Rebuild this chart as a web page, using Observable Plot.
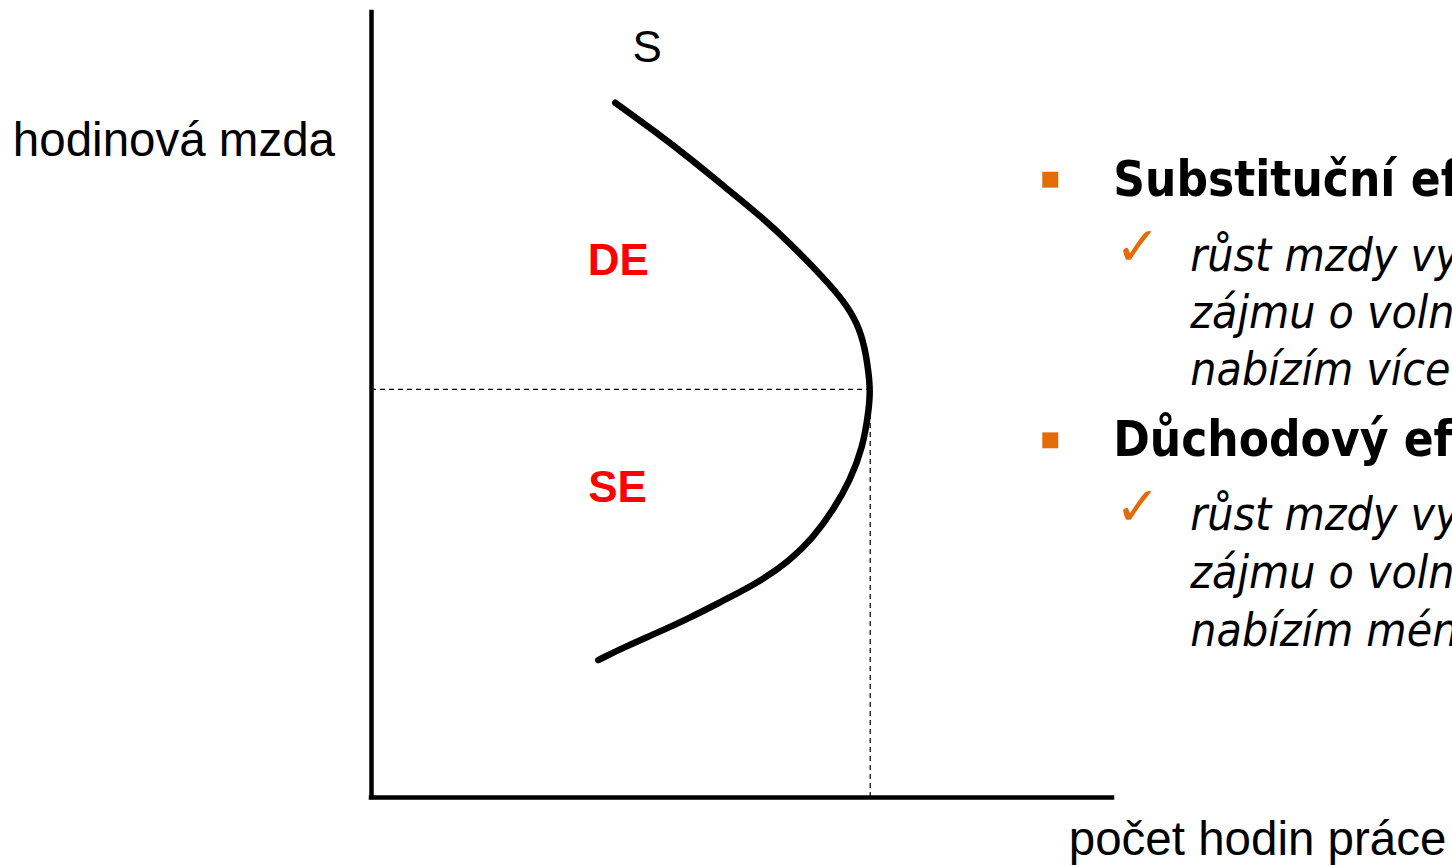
<!DOCTYPE html>
<html><head><meta charset="utf-8">
<script src="https://cdn.jsdelivr.net/npm/d3@7"></script>
<script src="https://cdn.jsdelivr.net/npm/@observablehq/plot@0.6"></script>
<style>body{margin:0;background:#fff;overflow:hidden}</style>
</head><body><div id="chart"></div>
<script>
// Supply curve S (hours of work x, hourly wage y), abstract units 0..100
const curveX = [32.9, 38.6, 43.0, 47.5, 52.1, 56.5, 61.0, 63.7, 65.6, 66.6, 67.1, 67.3, 67.1, 66.3, 64.6, 62.3, 59.6, 56.5, 52.1, 47.5, 43.0, 38.6, 34.0, 30.6];
const curveY = [88.5, 84.6, 81.4, 77.9, 74.4, 70.6, 66.2, 63.3, 60.4, 57.3, 54.0, 51.8, 49.2, 44.6, 40.4, 36.6, 33.1, 30.2, 27.3, 25.1, 22.9, 21.0, 19.1, 17.5];
const turnX = 67.3, turnY = 52.0;

const axisLabels = [
  {text: "hodinová mzda", x: -48.4, y: 83.7},
  {text: "počet hodin práce", x: 94.1, y: -5.4}
];
const curveLabel = [{text: "S", x: 37.2, y: 95.5}];
const effectLabels = [
  {text: "DE", x: 33.3, y: 68.4},
  {text: "SE", x: 33.2, y: 39.4}
];
const bullets = [{x: 91.6, y: 78.7}, {x: 91.6, y: 45.5}];
const headings = [
  {text: "Substituční efekt", x: 100.1, y: 78.6},
  {text: "Důchodový efekt", x: 100.1, y: 45.5}
];
const checks = [{x: 103.4, y: 70.0}, {x: 103.4, y: 36.9}];
const lines = [
  {text: "růst mzdy vyvolává pokles", x: 110.5, y: 69.0},
  {text: "zájmu o volný čas →", x: 110.5, y: 61.7},
  {text: "nabízím více práce", x: 110.5, y: 54.4},
  {text: "růst mzdy vyvolává růst", x: 110.5, y: 35.9},
  {text: "zájmu o volný čas →", x: 110.5, y: 28.6},
  {text: "nabízím méně práce", x: 110.5, y: 21.2}
];

const curve = curveX.map((x, i) => ({x, y: curveY[i]}));
const orange = "#E36C09";
const leftFont = "'Liberation Sans', Arial, sans-serif";
const rightFont = "'DejaVu Sans Condensed', 'DejaVu Sans', sans-serif";

const chart = Plot.plot({
  width: 1452, height: 865,
  marginLeft: 371, marginRight: 340, marginTop: 12, marginBottom: 68,
  x: {domain: [0, 100], axis: null},
  y: {domain: [0, 100], axis: null},
  style: {background: "#fff", overflow: "hidden"},
  marks: [
    Plot.ruleY([turnY], {x1: 0, x2: turnX, stroke: "#000", strokeWidth: 1.2, strokeDasharray: "5,4"}),
    Plot.ruleX([turnX], {y1: 0, y2: turnY, stroke: "#000", strokeWidth: 1.2, strokeDasharray: "5,4"}),
    Plot.ruleX([0], {y1: 0, y2: 100, stroke: "#000", strokeWidth: 4.5, strokeLinecap: "square"}),
    Plot.ruleY([0], {x1: 0, x2: 100, stroke: "#000", strokeWidth: 4.5, strokeLinecap: "square"}),
    Plot.line(curve, {x: "x", y: "y", curve: "basis", stroke: "#000", strokeWidth: 6.5}),
    Plot.text(axisLabels, {x: "x", y: "y", text: "text", textAnchor: "start", fontSize: 47.5, fontFamily: leftFont, fill: "#000"}),
    Plot.text(curveLabel, {x: "x", y: "y", text: "text", textAnchor: "middle", fontSize: 44, fontFamily: leftFont, fill: "#000"}),
    Plot.text(effectLabels, {x: "x", y: "y", text: "text", fontSize: 44, fontWeight: "bold", fontFamily: leftFont, fill: "#ff0000"}),
    Plot.dot(bullets, {x: "x", y: "y", symbol: "square", r: 9, fill: orange, stroke: "none"}),
    Plot.text(headings, {x: "x", y: "y", text: "text", textAnchor: "start", fontSize: 49, fontWeight: "bold", fontFamily: rightFont, fill: "#000"}),
    Plot.text(checks, {x: "x", y: "y", text: () => "✓", fontSize: 54, fontFamily: "'DejaVu Sans', sans-serif", fill: orange}),
    Plot.text(lines, {x: "x", y: "y", text: "text", textAnchor: "start", fontSize: 46, fontStyle: "italic", fontFamily: rightFont, fill: "#000"})
  ]
});
document.getElementById("chart").appendChild(chart);
</script></body></html>
